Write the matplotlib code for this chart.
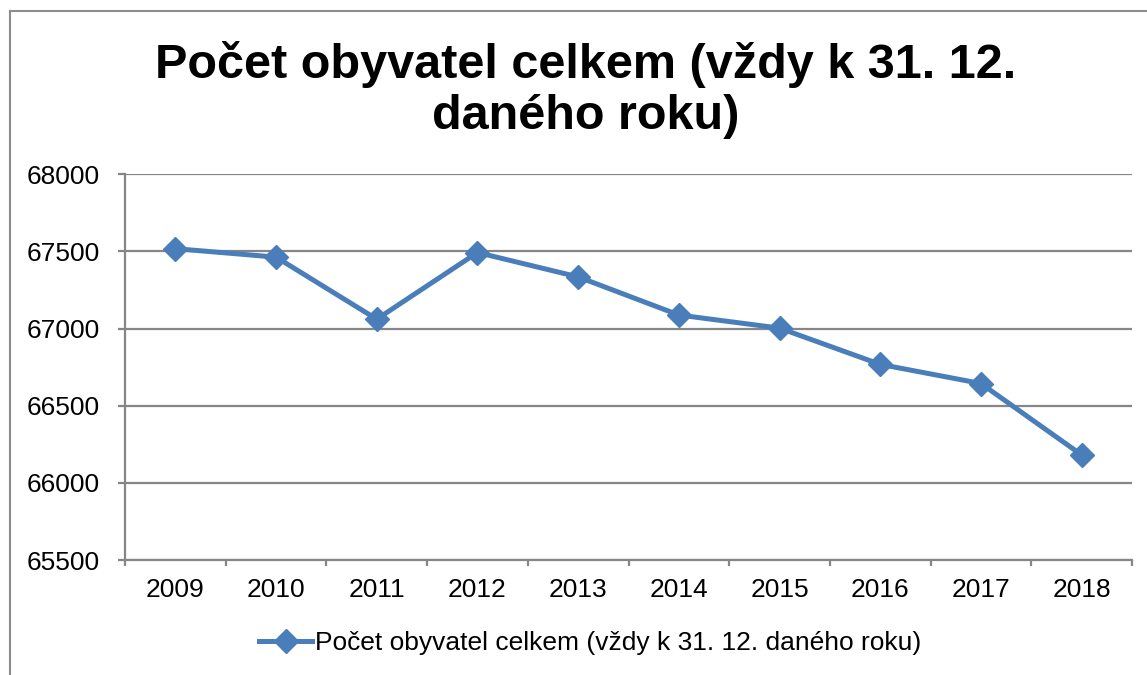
import matplotlib
matplotlib.use("Agg")
import matplotlib.pyplot as plt
from matplotlib.lines import Line2D

# data
years = ["2009", "2010", "2011", "2012", "2013", "2014", "2015", "2016", "2017", "2018"]
population = [67518, 67463, 67061, 67493, 67335, 67088, 67003, 66768, 66644, 66181]
series_label = "Počet obyvatel celkem (vždy k 31. 12. daného roku)"
title_text = "Počet obyvatel celkem (vždy k 31. 12.\ndaného roku)"
y_ticks = [65500, 66000, 66500, 67000, 67500, 68000]

plt.rcParams["font.family"] = ["Liberation Sans", "DejaVu Sans"]

BLUE = "#4A7EBB"
GRID = "#868686"

fig = plt.figure(figsize=(11.47, 6.75), dpi=100)
ax = fig.add_axes([125 / 1147, 1 - 560 / 675, (1132 - 125) / 1147, (560 - 174.3) / 675])

x = list(range(len(years)))
ax.plot(x, population, color=BLUE, linewidth=3.6, marker="D", markersize=12.5,
        markerfacecolor=BLUE, markeredgecolor=BLUE, label=series_label, zorder=3)

ax.set_xlim(-0.5, len(years) - 0.5)
ax.set_ylim(y_ticks[0], y_ticks[-1])
ax.set_yticks(y_ticks)
ax.set_yticklabels([str(v) for v in y_ticks])
ax.set_xticks(x)
ax.set_xticklabels(years)
ax.set_xticks([i - 0.5 for i in range(len(years) + 1)], minor=True)

ax.grid(axis="y", color=GRID, linewidth=1.6)
ax.set_axisbelow(True)
for s in ["top", "right"]:
    ax.spines[s].set_visible(False)
for s in ["left", "bottom"]:
    ax.spines[s].set_color(GRID)
    ax.spines[s].set_linewidth(1.6)

ax.tick_params(axis="y", length=5, width=1.6, color=GRID, pad=13, labelsize=19)
ax.tick_params(axis="x", which="major", length=0, pad=13, labelsize=19)
ax.tick_params(axis="x", which="minor", length=4, width=1.6, color=GRID)

fig.text(586 / 1147, 1 - 90 / 675, title_text, ha="center", va="center",
         fontsize=35, fontweight="bold", linespacing=1.17)

fig.legend(loc="center", bbox_to_anchor=(590 / 1147, 1 - 643 / 675), frameon=False,
           fontsize=19, handlelength=2.0, handletextpad=0.1)

# outer chart border (left and top visible)
fig.add_artist(Line2D([10 / 1147, 10 / 1147], [0, 1 - 11 / 675], color="#8c8c8c",
                      linewidth=1.5, transform=fig.transFigure))
fig.add_artist(Line2D([10 / 1147, 1], [1 - 11 / 675, 1 - 11 / 675], color="#8c8c8c",
                      linewidth=1.5, transform=fig.transFigure))

fig.savefig("out.png", dpi=100)
